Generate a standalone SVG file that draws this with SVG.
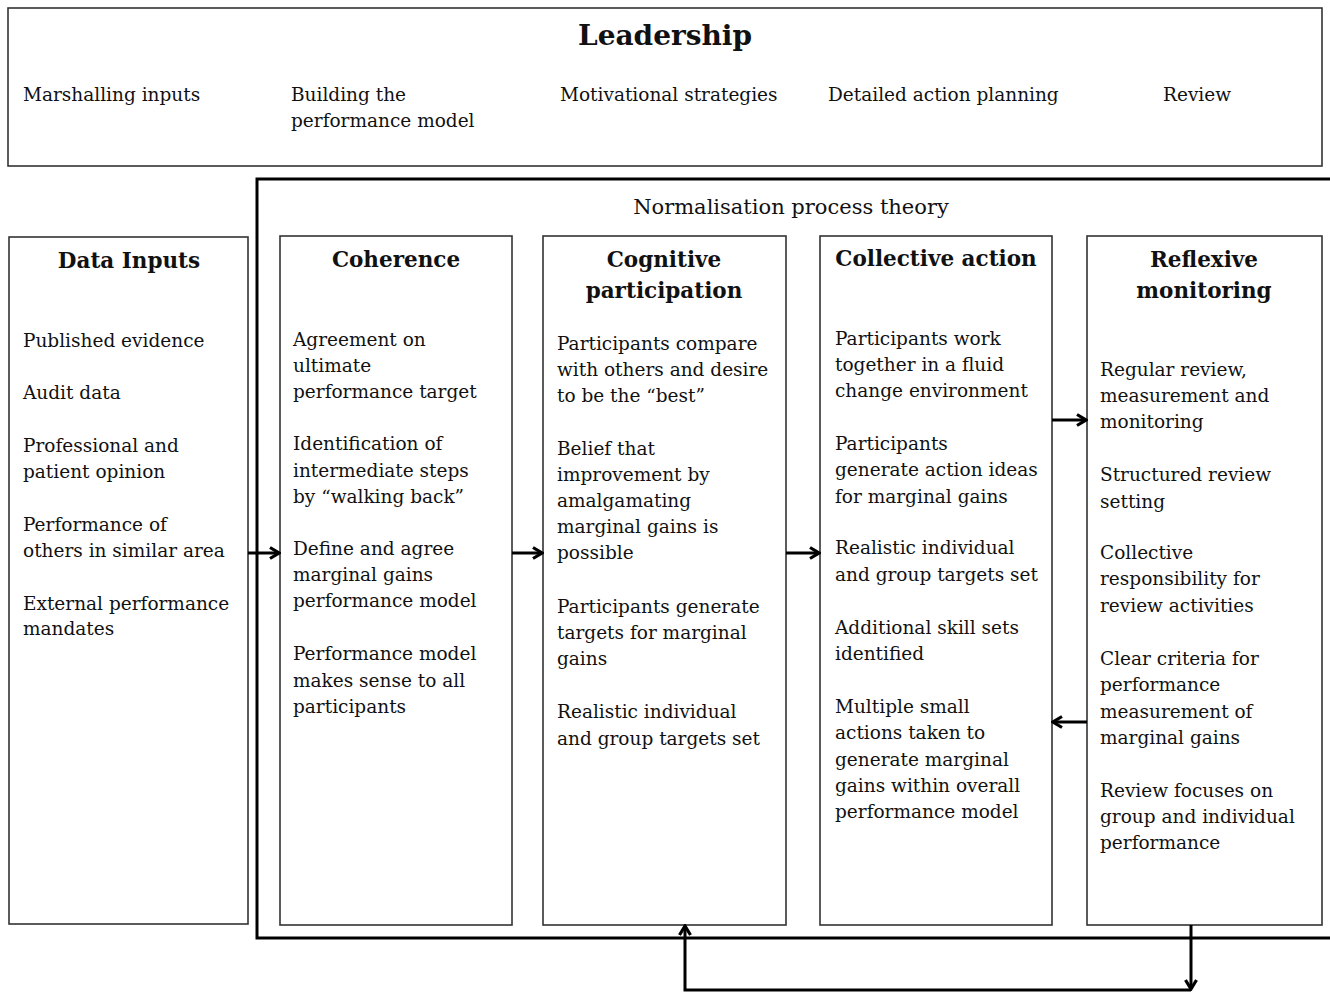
<svg xmlns="http://www.w3.org/2000/svg" width="1330" height="994" viewBox="0 0 1330 994">
<style>
.box{fill:#fff;stroke:#333;stroke-width:1.6}
.outer{fill:none;stroke:#000;stroke-width:3}
text{font-family:"DejaVu Serif","Liberation Serif",serif;fill:#111}
.t{font-size:18.5px}
.h{font-size:21.5px;font-weight:bold;text-anchor:middle}
.big{font-size:28px;font-weight:bold;text-anchor:middle}
.conn{fill:none;stroke:#000;stroke-width:3}
</style>
<defs>
<marker id="ah" viewBox="0 0 14 14" refX="12" refY="7" markerWidth="14" markerHeight="14" markerUnits="userSpaceOnUse" orient="auto">
<path d="M3,1.5 L12,7 L3,12.5" fill="none" stroke="#000" stroke-width="3.2" stroke-linejoin="miter"/>
</marker>
</defs>
<rect width="1330" height="994" fill="#fff"/>

<g id="leadership">
<rect class="box" x="8" y="8" width="1314" height="158"/>
<text class="big" x="665" y="45">Leadership</text>
<text class="t" x="23" y="101">Marshalling inputs</text>
<text class="t" x="291" y="101">Building the</text>
<text class="t" x="291" y="127">performance model</text>
<text class="t" x="560" y="101">Motivational strategies</text>
<text class="t" x="828" y="101">Detailed action planning</text>
<text class="t" x="1163" y="101">Review</text>
</g>

<g id="npt">
<rect class="outer" x="257" y="179" width="1075" height="759"/>
<text x="791" y="214" text-anchor="middle" style="font-size:21px">Normalisation process theory</text>
</g>

<g id="data-inputs">
<rect class="box" x="9" y="237" width="239" height="687"/>
<text class="h" x="129" y="268">Data Inputs</text>
<text class="t" x="23" y="347">Published evidence</text>
<text class="t" x="23" y="399">Audit data</text>
<text class="t" x="23" y="452">Professional and</text>
<text class="t" x="23" y="478">patient opinion</text>
<text class="t" x="23" y="531">Performance of</text>
<text class="t" x="23" y="557">others in similar area</text>
<text class="t" x="23" y="610">External performance</text>
<text class="t" x="23" y="635">mandates</text>
</g>

<g id="coherence">
<rect class="box" x="280" y="236" width="232" height="689"/>
<text class="h" x="396" y="267">Coherence</text>
<text class="t" x="293" y="346">Agreement on</text>
<text class="t" x="293" y="372">ultimate</text>
<text class="t" x="293" y="398">performance target</text>
<text class="t" x="293" y="450">Identification of</text>
<text class="t" x="293" y="477">intermediate steps</text>
<text class="t" x="293" y="503">by “walking back”</text>
<text class="t" x="293" y="555">Define and agree</text>
<text class="t" x="293" y="581">marginal gains</text>
<text class="t" x="293" y="607">performance model</text>
<text class="t" x="293" y="660">Performance model</text>
<text class="t" x="293" y="687">makes sense to all</text>
<text class="t" x="293" y="713">participants</text>
</g>

<g id="cognitive-participation">
<rect class="box" x="543" y="236" width="243" height="689"/>
<text class="h" x="664" y="267">Cognitive</text>
<text class="h" x="664" y="298">participation</text>
<text class="t" x="557" y="350">Participants compare</text>
<text class="t" x="557" y="376">with others and desire</text>
<text class="t" x="557" y="402">to be the “best”</text>
<text class="t" x="557" y="455">Belief that</text>
<text class="t" x="557" y="481">improvement by</text>
<text class="t" x="557" y="507">amalgamating</text>
<text class="t" x="557" y="533">marginal gains is</text>
<text class="t" x="557" y="559">possible</text>
<text class="t" x="557" y="613">Participants generate</text>
<text class="t" x="557" y="639">targets for marginal</text>
<text class="t" x="557" y="665">gains</text>
<text class="t" x="557" y="718">Realistic individual</text>
<text class="t" x="557" y="745">and group targets set</text>
</g>

<g id="collective-action">
<rect class="box" x="820" y="236" width="232" height="689"/>
<text class="h" x="936" y="266">Collective action</text>
<text class="t" x="835" y="345">Participants work</text>
<text class="t" x="835" y="371">together in a fluid</text>
<text class="t" x="835" y="397">change environment</text>
<text class="t" x="835" y="450">Participants</text>
<text class="t" x="835" y="476">generate action ideas</text>
<text class="t" x="835" y="503">for marginal gains</text>
<text class="t" x="835" y="554">Realistic individual</text>
<text class="t" x="835" y="581">and group targets set</text>
<text class="t" x="835" y="634">Additional skill sets</text>
<text class="t" x="835" y="660">identified</text>
<text class="t" x="835" y="713">Multiple small</text>
<text class="t" x="835" y="739">actions taken to</text>
<text class="t" x="835" y="766">generate marginal</text>
<text class="t" x="835" y="792">gains within overall</text>
<text class="t" x="835" y="818">performance model</text>
</g>

<g id="reflexive-monitoring">
<rect class="box" x="1087" y="236" width="235" height="689"/>
<text class="h" x="1204" y="267">Reflexive</text>
<text class="h" x="1204" y="298">monitoring</text>
<text class="t" x="1100" y="376">Regular review,</text>
<text class="t" x="1100" y="402">measurement and</text>
<text class="t" x="1100" y="428">monitoring</text>
<text class="t" x="1100" y="481">Structured review</text>
<text class="t" x="1100" y="508">setting</text>
<text class="t" x="1100" y="559">Collective</text>
<text class="t" x="1100" y="585">responsibility for</text>
<text class="t" x="1100" y="612">review activities</text>
<text class="t" x="1100" y="665">Clear criteria for</text>
<text class="t" x="1100" y="691">performance</text>
<text class="t" x="1100" y="718">measurement of</text>
<text class="t" x="1100" y="744">marginal gains</text>
<text class="t" x="1100" y="797">Review focuses on</text>
<text class="t" x="1100" y="823">group and individual</text>
<text class="t" x="1100" y="849">performance</text>
</g>

<g id="connectors">
<line class="conn" x1="248" y1="553" x2="279" y2="553" marker-end="url(#ah)"/>
<line class="conn" x1="512" y1="553" x2="542" y2="553" marker-end="url(#ah)"/>
<line class="conn" x1="786" y1="553" x2="819" y2="553" marker-end="url(#ah)"/>
<line class="conn" x1="1052" y1="420" x2="1086" y2="420" marker-end="url(#ah)"/>
<line class="conn" x1="1087" y1="722" x2="1053" y2="722" marker-end="url(#ah)"/>
<line class="conn" x1="1191" y1="925" x2="1191" y2="989" marker-end="url(#ah)"/>
<polyline class="conn" points="1191,990 685,990 685,926" marker-end="url(#ah)"/>
</g>
</svg>
